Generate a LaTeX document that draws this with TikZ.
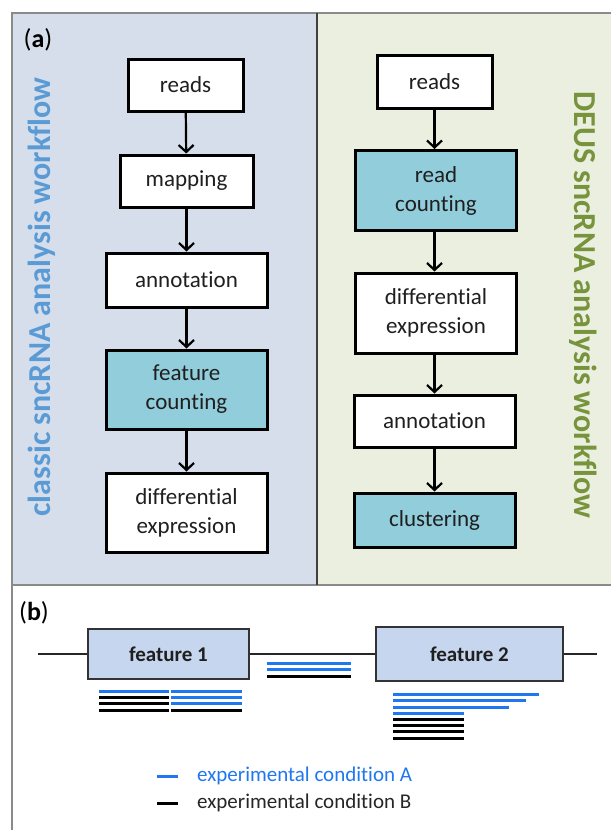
\documentclass[tikz,border=0pt]{standalone}
\usepackage{fontspec}
\setmainfont{Carlito}[Ligatures=NoCommon]
\usetikzlibrary{arrows.meta}
\definecolor{leftbg}{HTML}{D5DEEA}
\definecolor{rightbg}{HTML}{EBEFDF}
\definecolor{teal}{HTML}{92CDDC}
\definecolor{featbg}{HTML}{C6D6EE}
\definecolor{readblue}{HTML}{1F78F0}
\definecolor{lblue}{HTML}{5B9BD5}
\definecolor{lgreen}{HTML}{77933C}
\definecolor{framegrey}{HTML}{8A8A8A}
\begin{document}
\begin{tikzpicture}[x=1pt,y=-1pt,
  stepbox/.style={draw=black, line width=3pt, fill=white, align=center, inner sep=0pt,
    text=black!88, font=\fontsize{23}{29}\selectfont},
  tealbox/.style={stepbox, fill=teal},
  arr/.style={line width=2.2pt, -{Straight Barb[length=7pt,width=15pt,line width=2.2pt]}},
  featbox/.style={draw=black!80, line width=1.8pt, fill=featbg, inner sep=0pt,
    font=\bfseries\fontsize{21}{25}\selectfont, text=black!88},
  bread/.style={readblue, line width=3pt},
  kread/.style={black, line width=3pt},
  title/.style={font=\bfseries\fontsize{32}{34}\selectfont},
  legend/.style={font=\fontsize{21}{25}\selectfont, anchor=west, inner sep=0pt}]
\useasboundingbox (0,0) rectangle (611,830);
\fill[white] (0,0) rectangle (611,830);
\fill[leftbg] (12,13) rectangle (317,585);
\fill[rightbg] (317,13) rectangle (611,585);
\draw[framegrey, line width=1.5pt] (611,13) -- (12,13) -- (12,830);
\draw[framegrey, line width=1.5pt] (12,585) -- (611,585);
\draw[black!75, line width=1.5pt] (317,13) -- (317,585);

% panel a
\node[font=\fontsize{26}{28}\selectfont] (la) at (38,40) {(\textbf{a})};
\node[title, text=lblue, rotate=90] (ltitle) at (42,297) {classic sncRNA analysis workflow};
\node[title, text=lgreen, rotate=-90] (rtitle) at (583,305) {DEUS sncRNA analysis workflow};

\node[stepbox, minimum width=115pt, minimum height=52pt] (r1) at (185.5,85) {reads};
\node[stepbox, minimum width=133pt, minimum height=52pt] (m1) at (186.5,181) {mapping};
\node[stepbox, minimum width=161pt, minimum height=54pt] (a1) at (186.5,280) {annotation};
\node[tealbox, minimum width=161pt, minimum height=79pt] (f1c) at (186.5,389.5) {feature\\counting};
\node[stepbox, minimum width=161pt, minimum height=79pt] (d1) at (186.5,512.5) {differential\\expression};

\draw[arr] (r1) -- (m1);
\draw[arr] (m1) -- (a1);
\draw[arr] (a1) -- (f1c);
\draw[arr] (f1c) -- (d1);

\node[stepbox, minimum width=115pt, minimum height=53pt] (r2) at (434.5,81.5) {reads};
\node[tealbox, minimum width=161pt, minimum height=80pt] (rc2) at (436,190.5) {read\\counting};
\node[stepbox, minimum width=161pt, minimum height=80pt] (d2) at (436,313) {differential\\expression};
\node[stepbox, minimum width=161pt, minimum height=52pt] (a2) at (434.5,421) {annotation};
\node[tealbox, minimum width=161pt, minimum height=54pt] (c2) at (434.5,520) {clustering};

\draw[arr] (r2.south) -- (r2.south |- rc2.north);
\draw[arr] (r2.south |- rc2.south) -- (r2.south |- d2.north);
\draw[arr] (r2.south |- d2.south) -- (a2.north);
\draw[arr] (a2) -- (c2);

% panel b
\node[font=\fontsize{26}{28}\selectfont] (lb) at (34,613) {(\textbf{b})};
\coordinate (lineL) at (38,654);
\coordinate (lineR) at (597,654);
\node[featbox, minimum width=161pt, minimum height=50pt] (ft1) at (168.5,654) {feature 1};
\node[featbox, minimum width=187pt, minimum height=54pt] (ft2) at (469.5,654) {feature 2};
\draw[black!85, line width=1.5pt] (lineL) -- (ft1.west);
\draw[black!85, line width=1.5pt] (ft1.east) -- (ft2.west);
\draw[black!85, line width=1.5pt] (ft2.east) -- (lineR);

% reads under feature 1
\draw[bread] (99,691) -- (169,691);
\draw[kread] (99,697) -- (169,697);
\draw[kread] (99,703.5) -- (169,703.5);
\draw[kread] (99,710) -- (169,710);
\draw[bread] (171,691) -- (242,691);
\draw[bread] (171,697) -- (242,697);
\draw[bread] (171,703.5) -- (242,703.5);
\draw[kread] (171,710) -- (242,710);
% reads between features
\draw[bread] (267,663) -- (351,663);
\draw[bread] (267,669.5) -- (351,669.5);
\draw[kread] (267,676) -- (351,676);
% reads under feature 2
\draw[bread] (393,694) -- (539,694);
\draw[bread] (393,700.5) -- (526,700.5);
\draw[bread] (393,707) -- (509,707);
\draw[bread] (393,713) -- (464,713);
\draw[kread] (393,719) -- (464,719);
\draw[kread] (393,725.5) -- (464,725.5);
\draw[kread] (393,731.5) -- (464,731.5);
\draw[kread] (393,738) -- (464,738);

% legend
\draw[bread] (157,776) -- (178,776);
\node[legend, text=readblue] (legA) at (197,776) {experimental condition A};
\draw[kread] (157,803) -- (178,803);
\node[legend, text=black!85] (legB) at (197,803) {experimental condition B};
\end{tikzpicture}
\end{document}
